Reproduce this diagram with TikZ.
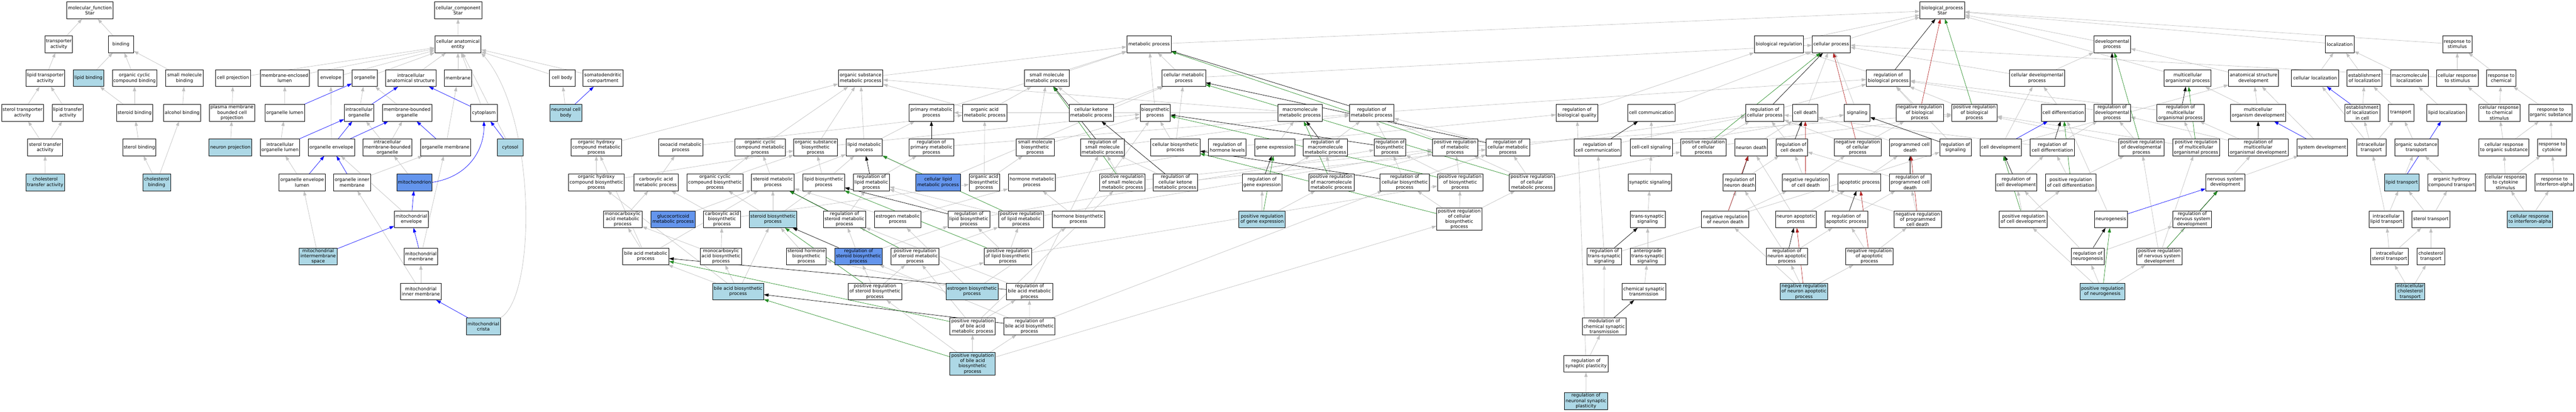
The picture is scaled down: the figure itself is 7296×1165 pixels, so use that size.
\documentclass[tikz,border=0pt]{standalone}
\usepackage{fontspec}
\setmainfont{DejaVu Sans}
\usetikzlibrary{arrows.meta}
\definecolor{lbc}{HTML}{ADD8E6}
\definecolor{dbc}{HTML}{6495ED}
\definecolor{egray}{RGB}{192,192,192}
\definecolor{egreen}{HTML}{228B22}
\definecolor{ered}{HTML}{B22222}
\definecolor{eblue}{HTML}{0000FF}
\pgfdeclarelayer{back}
\pgfdeclarelayer{bg}
\pgfsetlayers{back,bg,main}
\newcommand\gofont{\fontsize{12.9bp}{14.9bp}\selectfont}
\newcommand\GN[6]{\node[#6,minimum width=#4bp] (#1) at (#2,#3) {#5};}
\tikzset{
  gn/.style={draw=black,line width=1.1bp,fill=white,inner sep=0pt,minimum height=47.5bp,align=center,font=\gofont},
  lbn/.style={gn,fill=lbc},
  dbn/.style={gn,fill=dbc},
  tall/.style={minimum height=63bp},
  etip/.style={-{Triangle[length=13bp,width=9bp]}},
  ge/.style={etip,draw=egray,line width=1bp},
  gb/.style={etip,draw=eblue,line width=1bp},
  gk/.style={etip,draw=black,line width=1bp},
  gg/.style={etip,draw=egreen,line width=1bp},
  gr/.style={etip,draw=ered,line width=1bp}
}
\begin{document}
\begin{tikzpicture}[x=1bp,y=-1bp]
\begin{pgfonlayer}{back}
\fill[white] (0,0) rectangle (7296,1165);
\end{pgfonlayer}
\useasboundingbox (0,0) rectangle (7296,1165);
% ---------------- molecular function
\GN{mf}{254.6}{29.3}{131}{molecular\_function\\Star}{gn}
\GN{ta}{166.5}{125.2}{78}{transporter\\activity}{gn}
\GN{bind}{342.5}{125.2}{72}{binding}{gn}
\GN{lta}{128}{221}{110}{lipid transporter\\activity}{gn}
\GN{lb}{250.7}{221}{86}{lipid binding}{lbn}
\GN{occb}{381}{221}{126}{organic cyclic\\compound binding}{gn}
\GN{smb}{522.6}{221}{107}{small molecule\\binding}{gn}
\GN{sta}{63.8}{319}{119}{sterol transporter\\activity}{gn}
\GN{ltfa}{191.8}{319}{88.7}{lipid transfer\\activity}{gn}
\GN{stb}{381}{319}{102}{steroid binding}{gn}
\GN{alcb}{516}{319}{105}{alcohol binding}{gn}
\GN{stfa}{127.8}{417}{99}{sterol transfer\\activity}{gn}
\GN{sterb}{394.6}{417}{94.5}{sterol binding}{gn}
\GN{chta}{128}{516}{110}{cholesterol\\transfer activity}{lbn}
\GN{chb}{443.8}{516}{78.6}{cholesterol\\binding}{lbn}
% ---------------- cellular component
\GN{cc}{1297.4}{29.3}{134}{cellular\_component\\Star}{gn}
\GN{cae}{1297}{125.2}{131}{cellular anatomical\\entity}{gn}
\GN{cp}{660}{221}{99}{cell projection}{gn}
\GN{mel}{806.5}{221}{139}{membrane-enclosed\\lumen}{gn}
\GN{env}{937}{221}{72}{envelope}{gn}
\GN{org}{1033}{221}{72}{organelle}{gn}
\GN{ias}{1163.7}{221}{142}{intracellular\\anatomical structure}{gn}
\GN{mem}{1297}{221}{78}{membrane}{gn}
\GN{cb}{1592}{221}{73}{cell body}{gn}
\GN{sdc}{1707.6}{221}{113}{somatodendritic\\compartment}{gn}
\GN{pmbcp}{657}{319}{129}{plasma membrane\\bounded cell\\projection}{gn}
\GN{ol}{806.7}{319}{112}{organelle lumen}{gn}
\GN{io}{1017}{319}{84}{intracellular\\organelle}{gn}
\GN{mbo}{1153}{319}{140}{membrane-bounded\\organelle}{gn}
\GN{cyto}{1370.6}{319}{75}{cytoplasm}{gn}
\GN{ncb}{1602.6}{319}{91}{neuronal cell\\body}{lbn}
\GN{np}{652.5}{417}{121}{neuron projection}{lbn}
\GN{iol}{793}{417}{112}{intracellular\\organelle lumen}{gn}
\GN{oe}{938.7}{417}{131}{organelle envelope}{gn}
\GN{imbo}{1097}{417}{138}{intracellular\\membrane-bounded\\organelle}{gn}
\GN{om}{1262}{417}{142}{organelle membrane}{gn}
\GN{cytosol}{1445}{417}{72}{cytosol}{lbn}
\GN{oel}{855.8}{516}{131}{organelle envelope\\lumen}{gn}
\GN{oim}{997}{516}{104.6}{organelle inner\\membrane}{gn}
\GN{mito}{1174}{516}{99}{mitochondrion}{dbn}
\GN{menv}{1165}{620.5}{96}{mitochondrial\\envelope}{gn}
\GN{mis}{901}{725.5}{107}{mitochondrial\\intermembrane\\space}{lbn}
\GN{mmem}{1192}{725.5}{96}{mitochondrial\\membrane}{gn}
\GN{mim}{1192}{825}{115}{mitochondrial\\inner membrane}{gn}
\GN{mc}{1369}{923.5}{96}{mitochondrial\\crista}{lbn}
% ---------------- metabolic
\GN{ohcmp}{1689}{417}{142}{organic hydroxy\\compound metabolic\\process}{gn}
\GN{ohcbp}{1689}{516}{158}{organic hydroxy\\compound biosynthetic\\process}{gn}
\GN{mcamp}{1763.6}{620.5}{110}{monocarboxylic\\acid metabolic\\process}{gn}
\GN{bamp}{1829}{725.5}{131}{bile acid metabolic\\process}{gn}
\GN{oxo}{1928}{417}{126}{oxoacid metabolic\\process}{gn}
\GN{occmp}{2153}{417}{142}{organic cyclic\\compound metabolic\\process}{gn}
\GN{osbp}{2310}{417}{124}{organic substance\\biosynthetic\\process}{gn}
\GN{lmp}{2447.6}{417}{103}{lipid metabolic\\process}{gn}
\GN{osmp}{2437.5}{221}{126}{organic substance\\metabolic process}{gn}
\GN{camp}{1858}{516}{126}{carboxylic acid\\metabolic process}{gn}
\GN{occbp}{2025}{516}{158}{organic cyclic\\compound biosynthetic\\process}{gn}
\GN{stmp}{2189}{516}{120.6}{steroid metabolic\\process}{gn}
\GN{lbp}{2333}{516}{118}{lipid biosynthetic\\process}{gn}
\GN{gcmp}{1906.5}{620.5}{125}{glucocorticoid\\metabolic process}{dbn}
\GN{cabp}{2045}{620.5}{104}{carboxylic acid\\biosynthetic\\process}{gn}
\GN{stbp}{2189}{620.5}{134}{steroid biosynthetic\\process}{lbn}
\GN{rstmp}{2391.7}{620.5}{120}{regulation of\\steroid metabolic\\process}{gn}
\GN{mcabp}{2042}{725.5}{117.5}{monocarboxylic\\acid biosynthetic\\process}{gn}
\GN{shbp}{2283.7}{725.5}{113}{steroid hormone\\biosynthetic\\process}{gn}
\GN{rstbp}{2431.7}{725.5}{135}{regulation of\\steroid biosynthetic\\process}{dbn}
\GN{babp}{2090.6}{825}{145}{bile acid biosynthetic\\process}{lbn}
\GN{prstbp}{2478}{825}{152}{positive regulation\\of steroid biosynthetic\\process}{gn}
\GN{pmp}{2638}{319}{126}{primary metabolic\\process}{gn}
\GN{oamp}{2789}{319}{125.6}{organic acid\\metabolic process}{gn}
\GN{smmp}{2965}{221}{126}{small molecule\\metabolic process}{gn}
\GN{rpmp}{2638}{417}{126}{regulation of\\primary metabolic\\process}{gn}
\GN{smbp}{2932}{417}{107}{small molecule\\biosynthetic\\process}{gn}
\GN{rlmp}{2467.7}{516}{102.7}{regulation of\\lipid metabolic\\process}{gn}
\GN{clmp}{2657}{516}{125.7}{cellular lipid\\metabolic process}{dbn}
\GN{oabp}{2787.8}{516}{86}{organic acid\\biosynthetic\\process}{gn}
\GN{hmp}{2922.5}{516}{133.5}{hormone metabolic\\process}{gn}
\GN{emp}{2542.6}{620.5}{131}{estrogen metabolic\\process}{gn}
\GN{rlbp}{2744}{620.5}{118}{regulation of\\lipid biosynthetic\\process}{gn}
\GN{prlmp}{2892}{620.5}{128}{positive regulation\\of lipid metabolic\\process}{gn}
\GN{hbp}{3054.5}{620.5}{147.7}{hormone biosynthetic\\process}{gn}
\GN{prstmp}{2591.5}{725.5}{136.5}{positive regulation\\of steroid metabolic\\process}{gn}
\GN{prlbp}{2854.5}{725.5}{134}{positive regulation\\of lipid biosynthetic\\process}{gn}
\GN{ebp}{2753}{825}{147}{estrogen biosynthetic\\process}{lbn}
\GN{rbamp}{2915.7}{825}{130.7}{regulation of\\bile acid metabolic\\process}{gn}
\GN{prbamp}{2754.6}{923.5}{128.7}{positive regulation\\of bile acid\\metabolic process}{gn}
\GN{rbabp}{2915.6}{923.5}{144.3}{regulation of\\bile acid biosynthetic\\process}{gn}
\GN{prbabp}{2754.6}{1029.3}{128.7}{positive regulation\\of bile acid\\biosynthetic\\process}{lbn,tall}
\GN{metp}{3254.4}{125.2}{126}{metabolic process}{gn}
\GN{cmp}{3353}{221}{123}{cellular metabolic\\process}{gn}
\GN{ckmp}{3090.5}{319}{125.7}{cellular ketone\\metabolic process}{gn}
\GN{bp}{3272}{319}{86}{biosynthetic\\process}{gn}
\GN{rsmmp}{3122.6}{417}{125}{regulation of\\small molecule\\metabolic process}{gn}
\GN{cbp}{3329}{417}{139}{cellular biosynthetic\\process}{gn}
\GN{rhl}{3476}{417}{107}{regulation of\\hormone levels}{gn}
\GN{ge}{3610.8}{417}{113}{gene expression}{gn}
\GN{prsmmp}{3178.7}{516}{128}{positive regulation\\of small molecule\\metabolic process}{gn}
\GN{rckmp}{3329}{516}{125.7}{regulation of\\cellular ketone\\metabolic process}{gn}
\GN{rge}{3574.6}{516}{113}{regulation of\\gene expression}{gn}
\GN{prge}{3574.6}{620.5}{131}{positive regulation\\of gene expression}{lbn}
\GN{mmp}{3682}{319}{125.6}{macromolecule\\metabolic process}{gn}
\GN{rmp}{3885}{319}{125.6}{regulation of\\metabolic process}{gn}
\GN{rmmp}{3754}{417}{125.6}{regulation of\\macromolecule\\metabolic process}{gn}
\GN{rbp}{3937}{417}{89}{regulation of\\biosynthetic\\process}{gn}
\GN{prmp}{4121}{417}{128.4}{positive regulation\\of metabolic\\process}{gn}
\GN{prmmp}{3770.6}{516}{128}{positive regulation\\of macromolecule\\metabolic process}{gn}
\GN{rcbp}{3978.4}{516}{139}{regulation of\\cellular biosynthetic\\process}{gn}
\GN{prbp}{4135.7}{516}{128.7}{positive regulation\\of biosynthetic\\process}{gn}
\GN{prcbp}{4133}{620.5}{128}{positive regulation\\of cellular\\biosynthetic\\process}{gn,tall}
\GN{rcmp}{4270.7}{417}{123}{regulation of\\cellular metabolic\\process}{gn}
\GN{prcmp}{4338.6}{516}{128}{positive regulation\\of cellular\\metabolic process}{gn}
% ---------------- signalling
\GN{rbq}{4466.5}{319}{118}{regulation of\\biological quality}{gn}
\GN{ccom}{4677}{319}{134}{cell communication}{gn}
\GN{rcc}{4525}{417}{133.4}{regulation of\\cell communication}{gn}
\GN{ccs}{4677}{417}{120}{cell-cell signaling}{gn}
\GN{ss}{4673}{516}{123.7}{synaptic signaling}{gn}
\GN{tss}{4666.6}{620.5}{99}{trans-synaptic\\signaling}{gn}
\GN{rtss}{4543.8}{725.5}{98.8}{regulation of\\trans-synaptic\\signaling}{gn}
\GN{atss}{4666.6}{725.5}{99}{anterograde\\trans-synaptic\\signaling}{gn}
\GN{cst}{4656}{825}{123.7}{chemical synaptic\\transmission}{gn}
\GN{mcst}{4543.5}{923.5}{123.7}{modulation of\\chemical synaptic\\transmission}{gn}
\GN{rsp}{4492}{1029.3}{125.6}{regulation of\\synaptic plasticity}{gn}
\GN{rnsp}{4491.8}{1134.8}{123}{regulation of\\neuronal synaptic\\plasticity}{lbn}
% ---------------- cell death
\GN{breg}{5038.4}{125.2}{139}{biological regulation}{gn}
\GN{cproc}{5186.5}{125.2}{107.7}{cellular process}{gn}
\GN{rbiop}{5348}{221}{123.5}{regulation of\\biological process}{gn}
\GN{rcp}{4998.4}{319}{107.4}{regulation of\\cellular process}{gn}
\GN{cd}{5113}{319}{72.3}{cell death}{gn}
\GN{sig}{5260}{319}{72.7}{signaling}{gn}
\GN{nrbp}{5437}{319}{134}{negative regulation\\of biological\\process}{gn}
\GN{prcp}{4824.7}{417}{128.5}{positive regulation\\of cellular\\process}{gn}
\GN{nd}{4959.7}{417}{91.4}{neuron death}{gn}
\GN{rcd}{5074.8}{417}{89}{regulation of\\cell death}{gn}
\GN{nrcp}{5261.5}{417}{133.4}{negative regulation\\of cellular\\process}{gn}
\GN{pcd}{5410}{417}{117.7}{programmed cell\\death}{gn}
\GN{rnd}{4926.4}{516}{91.8}{regulation of\\neuron death}{gn}
\GN{nrcd}{5114}{516}{133}{negative regulation\\of cell death}{gn}
\GN{ap}{5266.6}{516}{121}{apoptotic process}{gn}
\GN{rpcd}{5410}{516}{117.7}{regulation of\\programmed cell\\death}{gn}
\GN{nrnd}{4886.3}{620.5}{134}{negative regulation\\of neuron death}{gn}
\GN{nap}{5086.5}{620.5}{115.5}{neuron apoptotic\\process}{gn}
\GN{rap}{5229}{620.5}{121.4}{regulation of\\apoptotic process}{gn}
\GN{nrpcd}{5431.6}{620.5}{133.6}{negative regulation\\of programmed\\cell death}{gn}
\GN{rnap}{5061}{725.5}{116}{regulation of\\neuron apoptotic\\process}{gn}
\GN{nrap}{5294.6}{725.5}{133.4}{negative regulation\\of apoptotic\\process}{gn}
\GN{nrnap}{5109.2}{825}{133.8}{negative regulation\\of neuron apoptotic\\process}{lbn}
% ---------------- development
\GN{bpstar}{5501}{29.3}{126.8}{biological\_process\\Star}{gn}
\GN{dp}{5982}{125.2}{104}{developmental\\process}{gn}
\GN{cdp}{5769.5}{221}{155.6}{cellular developmental\\process}{gn}
\GN{prbiop}{5592}{319}{128}{positive regulation\\of biological\\process}{gn}
\GN{cdiff}{5843.8}{319}{125.3}{cell differentiation}{gn}
\GN{rdp}{5982}{319}{104}{regulation of\\developmental\\process}{gn}
\GN{rsig}{5538.6}{417}{89}{regulation of\\signaling}{gn}
\GN{cdev}{5666.6}{417}{118}{cell development}{gn}
\GN{rcdiff}{5813}{417}{125.3}{regulation of\\cell differentiation}{gn}
\GN{prdp}{6065}{417}{128}{positive regulation\\of developmental\\process}{gn}
\GN{rcdev}{5710.4}{516}{118}{regulation of\\cell development}{gn}
\GN{prcdiff}{5865}{516}{142}{positive regulation\\of cell differentiation}{gn}
\GN{prcdev}{5730.6}{620.5}{136}{positive regulation\\of cell development}{gn}
\GN{ng}{5978.5}{620.5}{93.6}{neurogenesis}{gn}
\GN{rng}{5913}{725.5}{93.8}{regulation of\\neurogenesis}{gn}
\GN{prng}{5954.6}{825}{128}{positive regulation\\of neurogenesis}{lbn}
\GN{mop}{6196}{221}{133}{multicellular\\organismal process}{gn}
\GN{asd}{6382.5}{221}{141}{anatomical structure\\development}{gn}
\GN{cloc}{6557}{221}{133.5}{cellular localization}{gn}
\GN{loc}{6626.7}{125.2}{81}{localization}{gn}
\GN{rmop}{6175.8}{319}{133.5}{regulation of\\multicellular\\organismal process}{gn}
\GN{mod}{6395.7}{319}{157}{multicellular\\organism development}{gn}
\GN{prmop}{6220}{417}{133}{positive regulation\\of multicellular\\organismal process}{gn}
\GN{rmod}{6395.8}{417}{168.7}{regulation of\\multicellular\\organismal development}{gn}
\GN{sd}{6577}{417}{144}{system development}{gn}
\GN{nsd}{6302.5}{516}{110}{nervous system\\development}{gn}
\GN{rnsd}{6209}{620.5}{110}{regulation of\\nervous system\\development}{gn}
\GN{prnsd}{6116}{725.5}{128.5}{positive regulation\\of nervous system\\development}{gn}
% ---------------- localization / response
\GN{rs}{6959.6}{125.2}{83}{response to\\stimulus}{gn}
\GN{eloc}{6697}{221}{99}{establishment\\of localization}{gn}
\GN{mloc}{6823.9}{221}{106.7}{macromolecule\\localization}{gn}
\GN{crs}{6959.7}{221}{118}{cellular response\\to stimulus}{gn}
\GN{rchem}{7084}{221}{83}{response to\\chemical}{gn}
\GN{elocc}{6690.6}{319}{98.7}{establishment\\of localization\\in cell}{gn}
\GN{tr}{6799.8}{319}{72.8}{transport}{gn}
\GN{lloc}{6929.3}{319}{112.6}{lipid localization}{gn}
\GN{crcs}{7078.5}{319}{117}{cellular response\\to chemical\\stimulus}{gn}
\GN{ros}{7223.8}{319}{123.4}{response to\\organic substance}{gn}
\GN{itr}{6716}{417}{83}{intracellular\\transport}{gn}
\GN{ost}{6843.8}{417}{123}{organic substance\\transport}{gn}
\GN{cros}{7091.8}{417}{141.4}{cellular response\\to organic substance}{gn}
\GN{rcyt}{7227.8}{417}{83}{response to\\cytokine}{gn}
\GN{ltr}{6802.5}{516}{96.7}{lipid transport}{lbn}
\GN{ohct}{6944}{516}{136}{organic hydroxy\\compound transport}{gn}
\GN{crcyt}{7096}{516}{117}{cellular response\\to cytokine\\stimulus}{gn}
\GN{rifn}{7234.7}{516}{110}{response to\\interferon-alpha}{gn}
\GN{iltr}{6758.8}{620.5}{97}{intracellular\\lipid transport}{gn}
\GN{sttr}{6885}{620.5}{107}{sterol transport}{gn}
\GN{crifn}{7165}{620.5}{128}{cellular response\\to interferon-alpha}{lbn}
\GN{isttr}{6767.8}{725.5}{106.7}{intracellular\\sterol transport}{gn}
\GN{chtr}{6885}{725.5}{78.7}{cholesterol\\transport}{gn}
\GN{ichtr}{6826.4}{825}{83.3}{intracellular\\cholesterol\\transport}{lbn}
% ================= edges
\begin{pgfonlayer}{bg}
\foreach \a/\b in {ta/mf,bind/mf,lta/ta,lb/bind,occb/bind,smb/bind,sta/lta,ltfa/lta,stb/lb,stb/occb,alcb/smb,stfa/sta,stfa/ltfa,sterb/stb,chta/stfa,chb/sterb,chb/alcb,
 cae/cc,cp/cae,mel/cae,env/cae,org/cae,ias/cae,mem/cae,cyto/cae,cytosol/cae,cb/cae,sdc/cae,pmbcp/cp,np/pmbcp,ol/mel,io/org,mbo/org,iol/ol,oe/env,imbo/io,imbo/mbo,om/mem,oel/iol,oim/om,mito/imbo,menv/oe,mis/oel,mmem/om,mim/mmem,mim/oim,ncb/cb,
 metp/bpstar,breg/bpstar,cproc/bpstar,dp/bpstar,mop/bpstar,loc/bpstar,rs/bpstar,
 cmp/metp,cmp/cproc,osmp/metp,pmp/metp,smmp/metp,bp/metp,
 ohcmp/osmp,ohcbp/ohcmp,ohcbp/osbp,oxo/oamp,camp/oxo,mcamp/camp,bamp/mcamp,bamp/stmp,bamp/ohcmp,
 occmp/osmp,osbp/osmp,osbp/bp,lmp/osmp,lmp/pmp,occbp/occmp,occbp/osbp,stmp/occmp,stmp/lmp,lbp/osbp,lbp/lmp,
 gcmp/stmp,cabp/camp,cabp/oabp,stbp/stmp,stbp/occbp,stbp/lbp,rstmp/rlmp,mcabp/mcamp,mcabp/cabp,babp/bamp,babp/mcabp,babp/stbp,babp/ohcbp,
 shbp/stbp,ebp/shbp,ebp/emp,ebp/hbp,emp/hmp,emp/stmp,rpmp/rmp,rlmp/rpmp,clmp/lmp,clmp/cmp,
 oamp/smmp,oamp/osmp,oabp/oamp,oabp/smbp,smbp/smmp,smbp/bp,hmp/rhl,hbp/hmp,hbp/bp,
 rlbp/rlmp,rlbp/rbp,prlmp/rlmp,prlmp/prmp,prstmp/rstmp,prstmp/prlmp,rstbp/rstmp,rstbp/rlbp,
 prstbp/rstbp,prstbp/prstmp,prstbp/prlbp,prlbp/rlbp,prlbp/prlmp,prlbp/prbp,rbamp/rstmp,rbamp/rsmmp,
 rbabp/rbamp,rbabp/rstbp,rbabp/rcbp,prbamp/rbamp,prbamp/prstmp,prbamp/prsmmp,prbabp/prbamp,prbabp/rbabp,prbabp/prstbp,prbabp/prcbp,
 ckmp/smmp,ckmp/cmp,rsmmp/rmp,rckmp/rsmmp,rckmp/rcmp,prsmmp/rsmmp,prsmmp/prmp,cbp/bp,cbp/cmp,
 ge/mmp,rge/rmmp,prge/rge,prge/prmmp,rhl/rbq,mmp/osmp,mmp/pmp,rmmp/rmp,prmmp/rmmp,prmmp/prmp,
 rbp/rmp,prmp/rmp,prmp/prbiop,rcbp/rbp,rcbp/rcmp,prbp/rbp,prbp/prmp,prcbp/prbp,prcbp/rcbp,prcbp/prcmp,
 rcmp/rmp,rcmp/rcp,prcmp/rcmp,prcmp/prmp,prcmp/prcp,rmp/rbiop,
 rbq/breg,ccom/cproc,rcc/rcp,ccs/ccom,ccs/sig,ss/ccs,tss/ss,rtss/rcc,rtss/rsig,atss/tss,cst/atss,mcst/rtss,rsp/mcst,rsp/rbq,rnsp/rsp,
 rbiop/breg,rcp/rbiop,prcp/rcp,prcp/prbiop,cd/cproc,sig/cproc,nd/cd,rcd/rcp,nrcp/rcp,nrcp/nrbp,pcd/cd,
 rnd/rcd,nrcd/rcd,nrcd/nrcp,ap/pcd,rpcd/rcd,nrnd/rnd,nrnd/nrcd,nap/ap,nap/nd,rap/rpcd,nrpcd/rpcd,nrpcd/nrcd,
 rnap/rnd,rnap/rap,nrap/rap,nrap/nrpcd,nrnap/rnap,nrnap/nrap,nrnap/nrnd,
 nrbp/rbiop,prbiop/rbiop,rsig/rbiop,rdp/rbiop,cdp/dp,cdp/cproc,cdiff/cdp,cdev/cdp,cdev/asd,rcdiff/rdp,rcdiff/rcp,
 rcdev/rcdiff,prcdiff/rcdiff,prcdiff/prdp,prcdev/rcdev,prcdev/prcdiff,ng/cdiff,rng/rcdev,rng/rnsd,prng/rng,prng/prcdev,prng/prnsd,
 asd/dp,cloc/loc,rmop/rbiop,mod/asd,mod/mop,prdp/rdp,prdp/prbiop,prmop/rmop,prmop/prbiop,rmod/rmop,rmod/rdp,
 sd/asd,nsd/sd,rnsd/rmod,prnsd/rnsd,prnsd/prdp,prnsd/prmop,
 eloc/loc,mloc/loc,crs/rs,crs/cproc,rchem/rs,elocc/eloc,tr/eloc,lloc/mloc,crcs/crs,crcs/rchem,ros/rchem,
 itr/elocc,itr/tr,itr/cloc,ost/tr,cros/crcs,cros/ros,rcyt/ros,ltr/ost,ohct/ost,crcyt/cros,crcyt/rcyt,rifn/rcyt,
 iltr/ltr,iltr/itr,sttr/ltr,sttr/ohct,crifn/crcyt,crifn/rifn,isttr/iltr,isttr/sttr,chtr/sttr,ichtr/isttr,ichtr/chtr}
 \draw[ge] (\a) -- (\b);
\draw[ge] (mc.north east) .. controls (1520,840) and (1520,330) .. (cae.south east);
\foreach \a/\b in {ol/org,io/ias,iol/io,oe/io,oe/mbo,om/mbo,cyto/ias,oel/oe,oim/oe,menv/mito,mis/menv,mmem/menv,mc/mim,ncb/sdc,cytosol/cyto,
 cdev/cdiff,ng/nsd,sd/mod,elocc/cloc,ltr/lloc}
 \draw[gb] (\a) -- (\b);
\draw[gb] (mito.east) .. controls (1330,500) and (1372,420) .. (cyto.south);
\foreach \a/\b in {rbiop/bpstar,rmp/metp,rcmp/cmp,rbp/bp,rcbp/cbp,rpmp/pmp,rlmp/lmp,rstmp/stmp,rlbp/lbp,rstbp/stbp,rbamp/bamp,rbabp/babp,rsmmp/smmp,rckmp/ckmp,rge/ge,rmmp/mmp,
 rcc/ccom,rtss/tss,mcst/cst,rcp/cproc,rcd/cd,rnd/nd,rpcd/pcd,rap/ap,rnap/nap,rsig/sig,rdp/dp,rcdiff/cdiff,rcdev/cdev,rng/ng,rmop/mop,rmod/mod,rnsd/nsd}
 \draw[gk] (\a) -- (\b);
\foreach \a/\b in {prmp/metp,prcmp/cmp,prbp/bp,prcbp/cbp,prlmp/lmp,prstmp/stmp,prlbp/lbp,prstbp/stbp,prbamp/bamp,prbabp/babp,prsmmp/smmp,prge/ge,prmmp/mmp,
 prcp/cproc,prbiop/bpstar,prcdiff/cdiff,prcdev/cdev,prng/ng,prdp/dp,prmop/mop,prnsd/nsd}
 \draw[gg] (\a) -- (\b);
\foreach \a/\b in {nrbp/bpstar,nrcp/cproc,nrcd/cd,nrnd/nd,nrpcd/pcd,nrap/ap,nrnap/nap}
 \draw[gr] (\a) -- (\b);
\end{pgfonlayer}
\end{tikzpicture}
\end{document}
